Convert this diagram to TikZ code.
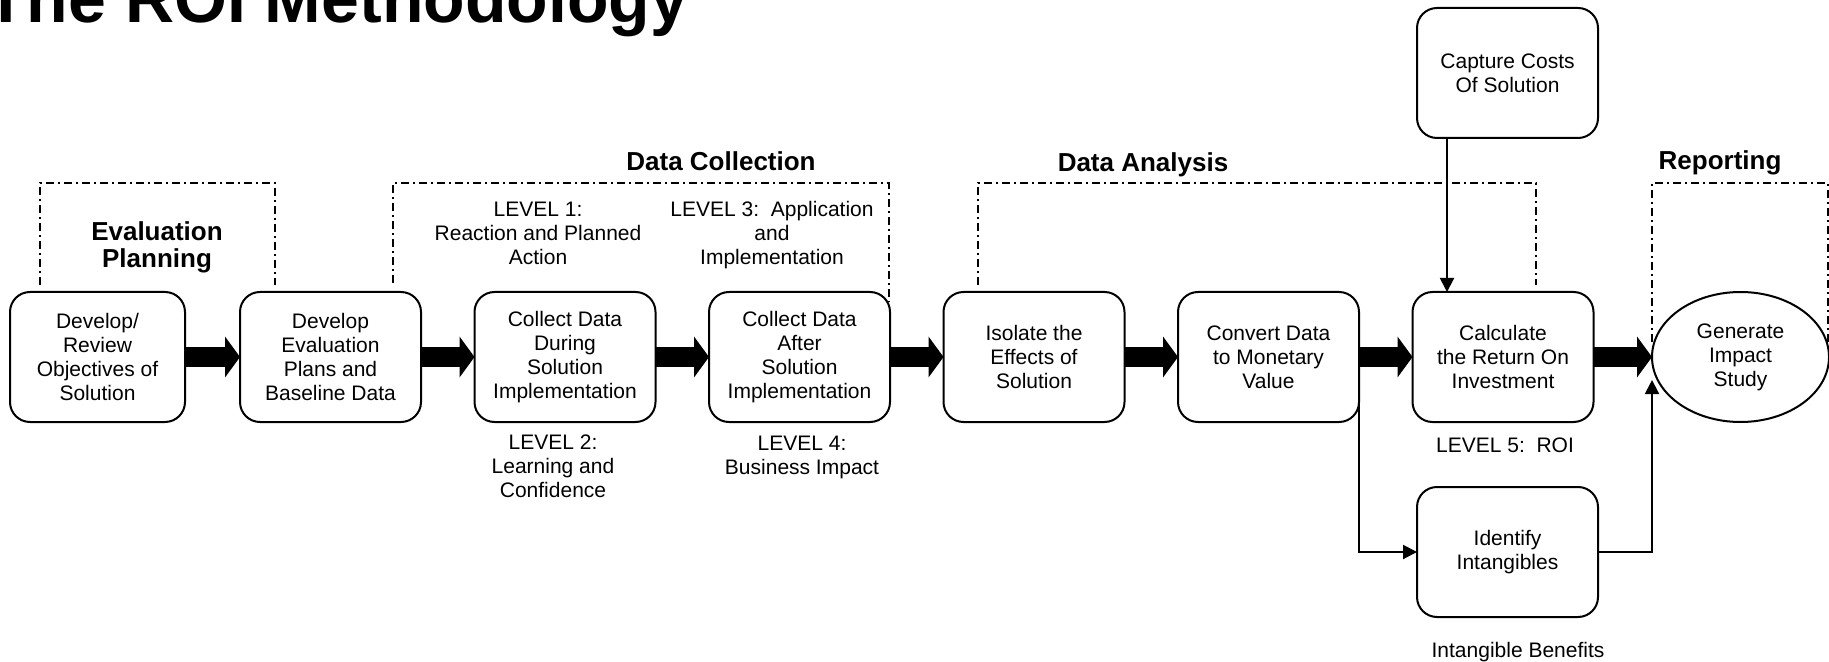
\documentclass[tikz,border=0pt]{standalone}
\usepackage{fontspec}
\setmainfont{Liberation Sans}
\usetikzlibrary{arrows.meta, positioning, shapes.geometric}
\frenchspacing

\tikzset{
  box/.style={draw, line width=1pt, rounded corners=10pt, minimum width=90.5pt, minimum height=65pt,
    inner sep=2pt, outer sep=0pt, align=center, font=\fontsize{10.5}{12}\selectfont},
  oval/.style={draw, line width=1pt, ellipse, minimum width=88.5pt, minimum height=65pt,
    inner sep=0pt, outer sep=0pt, align=center, font=\fontsize{10.5}{12}\selectfont},
  note/.style={inner sep=0pt, align=center, font=\fontsize{10.5}{12}\selectfont},
  heading/.style={inner sep=0pt, align=center, font=\fontsize{13}{13.5}\selectfont\bfseries},
  phaseline/.style={line width=1pt, dash pattern=on 4pt off 2pt on 1pt off 2pt},
  flow/.style={line width=10pt, -{Triangle[length=7.5pt, width=20.5pt, line width=0pt]}},
  link/.style={line width=1pt, -{Triangle[length=7pt, width=7pt]}}
}

\begin{document}
\begin{tikzpicture}[x=0.5pt, y=-0.5pt]
\useasboundingbox (0,0) rectangle (1829,662);

% title runs off the top of the page
\node[inner sep=0pt, anchor=base west, font=\fontsize{34}{38}\selectfont\bfseries] (title) at (-15,23) {The ROI Methodology};

% phase brackets
\draw[phaseline] (40,285) |- (275,183) -- (275,285);
\draw[phaseline] (393,283) |- (889,183) -- (889,302);
\draw[phaseline] (978,285) |- (1536,183) -- (1536,285);
\draw[phaseline] (1652,342) |- (1828,183) -- (1828,342);

\node[heading] (hplan) at (157,247) {Evaluation\\Planning};
\node[heading, anchor=base] (hcoll) at (721,171) {Data Collection};
\node[heading, anchor=base] (hana) at (1143,172) {Data Analysis};
\node[heading, anchor=base] (hrep) at (1720,170) {Reporting};

% main chain
\node[box, minimum width=87.5pt] (dev) at (97.5,357) {Develop/\\Review\\Objectives of\\Solution};
\node[box, right=27.5pt of dev] (plan) {Develop\\Evaluation\\Plans and\\Baseline Data};
\node[box, right=26.75pt of plan] (during) {Collect Data\\During\\Solution\\Implementation};
\node[box, right=26.75pt of during] (after) {Collect Data\\After\\Solution\\Implementation};
\node[box, right=26.75pt of after] (isolate) {Isolate the\\Effects of\\Solution};
\node[box, right=26.75pt of isolate] (convert) {Convert Data\\to Monetary\\Value};
\node[box, right=26.75pt of convert] (calc) {Calculate\\the Return On\\Investment};
\node[oval, right=29.25pt of calc] (report) {Generate\\Impact\\Study};

\node[box, above=77pt of calc, xshift=2.25pt] (cost) {Capture Costs\\Of Solution};
\node[box, below=32.5pt of calc, xshift=2.25pt] (intang) {Identify\\Intangibles};

\draw[flow] (dev) -- (plan);
\draw[flow] (plan) -- (during);
\draw[flow] (during) -- (after);
\draw[flow] (after) -- (isolate);
\draw[flow] (isolate) -- (convert);
\draw[flow] (convert) -- (calc);
\draw[flow] (calc) -- (report);

\draw[link] ([xshift=15pt]cost.south west) -- ([xshift=15pt]cost.south west |- calc.north);
\draw[link] ([yshift=-20pt]convert.east) |- (intang.west);
\draw[link] (intang.east) -| ([yshift=-11.5pt]report.west);

% levels
\node[note] (lv1) at (538,233.5) {LEVEL 1:\\Reaction and Planned\\Action};
\node[note] (lv3) at (772,235.5) {LEVEL 3:\ \ Application\\and\\Implementation};
\node[note] (lv2) at (553,466.5) {LEVEL 2:\\Learning and\\Confidence};
\node[note] (lv4) at (802,457) {LEVEL 4:\\Business Impact};
\node[note, anchor=base] (lv5) at (1505,452) {LEVEL 5:\ \ ROI};
\node[note, anchor=base] (benefit) at (1518,657) {Intangible Benefits};
\end{tikzpicture}
\end{document}
